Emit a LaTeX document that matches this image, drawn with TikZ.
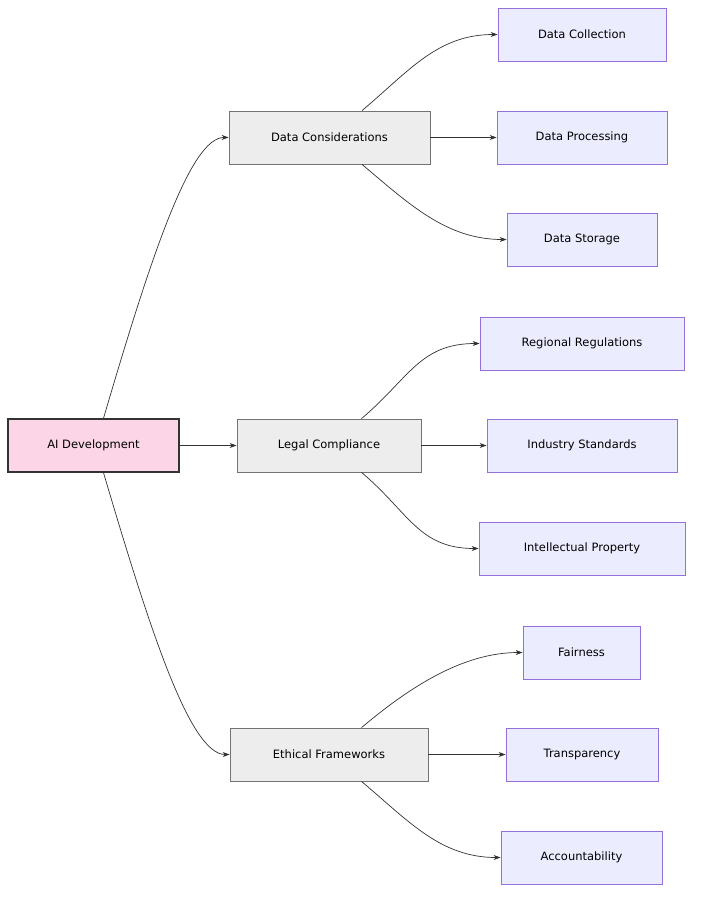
\documentclass[tikz,border=0pt]{standalone}
\usepackage{fontspec}
\setmainfont{DejaVu Sans}
\usetikzlibrary{arrows.meta,calc}
\definecolor{leafFill}{HTML}{ECECFF}
\definecolor{leafLine}{HTML}{9370DB}
\definecolor{rootFill}{HTML}{FCD6E6}
\tikzset{
	box/.style={shape=rectangle,minimum height=53pt,inner sep=0pt,font=\fontsize{11.5}{14}\selectfont},
	root/.style={box,fill=rootFill,draw=black!80,line width=1.4pt},
	mid/.style={box,fill=black!7,draw=black!55,line width=0.8pt},
	leaf/.style={box,fill=leafFill,draw=leafLine,line width=0.8pt},
	link/.style={draw=black!80,line width=0.7pt,-{Stealth[length=7pt,width=5pt]}}
}
\begin{document}
\begin{tikzpicture}[x=1pt,y=-1pt]
	\useasboundingbox (0,0) rectangle (701,902);
	\node[root,minimum width=171pt] (ai) at (93.5,445.5)  {AI Development};

	\node[mid,minimum width=201pt] (data)  at (329.5,137.5) {Data Considerations};
	\node[mid,minimum width=184pt] (legal) at (329,445.5)   {Legal Compliance};
	\node[mid,minimum width=198pt] (ethic) at (329,754.5)   {Ethical Frameworks};

	\node[leaf,minimum width=168pt] (collect) at (582,34.5)    {Data Collection};
	\node[leaf,minimum width=170pt] (process) at (582,137.5)   {Data Processing};
	\node[leaf,minimum width=150pt] (store)   at (582,239.5)   {Data Storage};
	\node[leaf,minimum width=204pt] (region)  at (582,343.5)   {Regional Regulations};
	\node[leaf,minimum width=190pt] (industry) at (582,445.5)  {Industry Standards};
	\node[leaf,minimum width=206pt] (ip)      at (582,548.5)   {Intellectual Property};
	\node[leaf,minimum width=117pt] (fair)    at (581.5,652.5) {Fairness};
	\node[leaf,minimum width=152pt] (transp)  at (582,754.5)   {Transparency};
	\node[leaf,minimum width=161pt] (account) at (581.5,857.5) {Accountability};

	% root to branches
	\path[link] ($(ai.north)+(10,0)$) .. controls (150,260) and (190,137) .. (data.west);
	\path[link] (ai.east) -- (legal.west);
	\path[link] ($(ai.south)+(10,0)$) .. controls (150,630) and (190,754.5) .. (ethic.west);

	% branches to leaves
	\foreach \br/\up/\lo in {data/collect/store, legal/region/ip, ethic/fair/account} {
		\path[link] ($(\br.north)+(32.5,0)$) .. controls ($(\br.north)+(80,-40)$) and ($(\up.west)+(-60,0)$) .. (\up.west);
		\path[link] ($(\br.south)+(32.5,0)$) .. controls ($(\br.south)+(80,40)$) and ($(\lo.west)+(-60,0)$) .. (\lo.west);
	}
	\path[link] (data.east) -- (process.west);
	\path[link] (legal.east) -- (industry.west);
	\path[link] (ethic.east) -- (transp.west);
\end{tikzpicture}
\end{document}
